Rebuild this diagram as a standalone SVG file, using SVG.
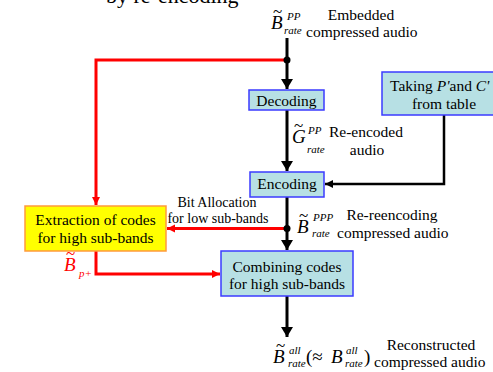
<svg xmlns="http://www.w3.org/2000/svg" width="493" height="372" viewBox="0 0 493 372">
<style>
text{font-family:"Liberation Serif","Times New Roman",serif;fill:#000}
.t{font-size:15.5px}
.s{font-size:14px}
.c{text-anchor:middle}
.i{font-style:italic}
.big{font-size:19px;font-style:italic}
.sup{font-size:11px;font-style:italic}
.tl{font-size:17px}
.box{fill:#b7e0e4;stroke:#3b3bff;stroke-width:1.5}
.ybox{fill:#ffff00;stroke:#ff9a3c;stroke-width:1.5}
.bk{fill:none;stroke:#000;stroke-width:3}
.bk2{fill:none;stroke:#000;stroke-width:2.5}
.rd{fill:none;stroke:#ff0000;stroke-width:3}
.red{fill:#ff0000}
</style>
<defs>
<marker id="ab" markerUnits="userSpaceOnUse" markerWidth="12" markerHeight="12" refX="10" refY="6" orient="auto"><path d="M0,0 L10,6 L0,12 Z" fill="#000"/></marker>
<marker id="ab2" markerUnits="userSpaceOnUse" markerWidth="9" markerHeight="9" refX="8" refY="4.5" orient="auto"><path d="M0,0.5 L8,4.5 L0,8.5 Z" fill="#000"/></marker>
<marker id="ar" markerUnits="userSpaceOnUse" markerWidth="9" markerHeight="9" refX="8" refY="4.5" orient="auto"><path d="M0,0.5 L8,4.5 L0,8.5 Z" fill="#ff0000"/></marker>
</defs>

<text x="106" y="3" style="font-size:22px">by re-encoding</text>

<g id="connectors">
  <path class="bk" d="M287,38 L287,89" marker-end="url(#ab)"/>
  <path class="bk" d="M287,110 L287,171" marker-end="url(#ab)"/>
  <path class="bk" d="M287,197 L287,250" marker-end="url(#ab)"/>
  <path class="bk" d="M287,296 L287,337" marker-end="url(#ab)"/>
  <path class="bk2" d="M444,115 L444,184 L325,184" marker-end="url(#ab2)"/>
  <path class="rd" d="M287,60 L96,60 L96,205" marker-end="url(#ar)"/>
  <path class="rd" d="M287,228.5 L167,228.5" marker-end="url(#ar)"/>
  <path class="rd" d="M96,251 L96,274 L220,274" marker-end="url(#ar)"/>
  <circle cx="287" cy="60" r="3.5" fill="#000"/>
  <circle cx="287" cy="228.5" r="3.5" fill="#000"/>
</g>

<g id="label-top">
  <text x="273" y="17" class="tl">~</text>
  <text x="271" y="29" class="big">B</text>
  <text x="287" y="20" class="sup">PP</text>
  <text x="284" y="34" class="sup">rate</text>
  <text x="361" y="20" class="t c">Embedded</text>
  <text x="306" y="37" class="t">compressed audio</text>
</g>

<g id="decoding">
  <rect class="box" x="249" y="90" width="75" height="20"/>
  <text x="286.5" y="106" class="t c">Decoding</text>
</g>

<g id="label-g">
  <text x="294" y="131" class="tl">~</text>
  <text x="292" y="143" class="big">G</text>
  <text x="308" y="134" class="sup">PP</text>
  <text x="307" y="153" class="sup">rate</text>
  <text x="366" y="137" class="t c">Re-encoded</text>
  <text x="367" y="155" class="t c">audio</text>
</g>

<g id="taking">
  <rect class="box" x="382" y="72" width="124" height="43"/>
  <text x="390" y="91" class="t">Taking <tspan class="i">P'</tspan>and <tspan class="i">C'</tspan></text>
  <text x="444" y="109" class="t c">from table</text>
</g>

<g id="encoding">
  <rect class="box" x="250" y="172" width="74" height="25"/>
  <text x="287" y="189" class="t c">Encoding</text>
</g>

<g id="label-bitalloc">
  <text x="217" y="207" class="s c">Bit Allocation</text>
  <text x="218" y="223" class="s c">for low sub-bands</text>
</g>

<g id="label-ppp">
  <text x="299" y="221" class="tl">~</text>
  <text x="297" y="233" class="big">B</text>
  <text x="313" y="221" class="sup">PPP</text>
  <text x="312" y="237" class="sup">rate</text>
  <text x="392" y="220" class="t c">Re-reencoding</text>
  <text x="337" y="238" class="t">compressed audio</text>
</g>

<g id="extraction">
  <rect class="ybox" x="25" y="206" width="141" height="45"/>
  <text x="95.5" y="225" class="t c">Extraction of codes</text>
  <text x="95.5" y="243" class="t c">for high sub-bands</text>
</g>

<g id="label-bp">
  <text x="66" y="259" class="tl" style="fill:#ff0000">~</text>
  <text x="64" y="271" class="big" style="fill:#ff0000">B</text>
  <text x="79" y="277" class="sup" style="fill:#ff0000">p+</text>
</g>

<g id="combining">
  <rect class="box" x="221" y="251" width="132" height="45"/>
  <text x="287" y="272" class="t c">Combining codes</text>
  <text x="287" y="289" class="t c">for high sub-bands</text>
</g>

<g id="label-bottom">
  <text x="276" y="351" class="tl">~</text>
  <text x="273" y="363" class="big">B</text>
  <text x="289" y="354" class="sup">all</text>
  <text x="288" y="367" class="sup">rate</text>
  <text x="306" y="363" style="font-size:19px">(≈</text>
  <text x="331" y="363" class="big">B</text>
  <text x="346" y="354" class="sup">all</text>
  <text x="345" y="367" class="sup">rate</text>
  <text x="364" y="363" style="font-size:19px">)</text>
  <text x="431" y="350" class="t c">Reconstructed</text>
  <text x="374" y="367" class="t">compressed audio</text>
</g>
</svg>
